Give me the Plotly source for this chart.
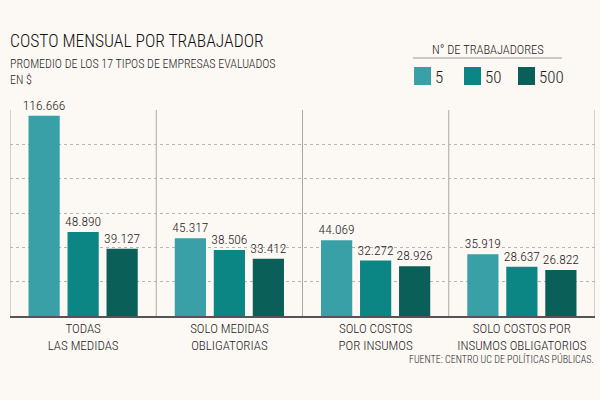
import plotly.graph_objects as go

categories = ["TODAS<br>LAS MEDIDAS", "SOLO MEDIDAS<br>OBLIGATORIAS",
              "SOLO COSTOS<br>POR INSUMOS", "SOLO COSTOS POR<br>INSUMOS OBLIGATORIOS"]
series_names = ["5", "50", "500"]
vals_5 = [116666, 45317, 44069, 35919]
vals_50 = [48890, 38506, 32272, 28637]
vals_500 = [39127, 33412, 28926, 26822]
colors = ["#38a0a6", "#0b8684", "#0a5f59"]

FONT = "Roboto Condensed, Liberation Sans Narrow, DejaVu Sans Condensed, sans-serif"
WT = 300
BG = "#fcf8f4"
TXT = "#1c1c1c"

W, H = 600, 400
L, R, T, B = 10, 5, 110, 84
PW, PH = W - L - R, H - T - B

def px(x):
    return (x - L) / PW

def py(y):
    return (H - B - y) / PH

def fnt(size, color=TXT):
    return dict(family=FONT, size=size, color=color, weight=WT)

fig = go.Figure()
for name, vals, col in zip(series_names, [vals_5, vals_50, vals_500], colors):
    fig.add_trace(go.Bar(
        x=categories, y=vals, name=name, marker=dict(color=col, line=dict(width=0)),
        texttemplate="%{y:,}", textposition="outside", cliponaxis=False,
        constraintext="none", textfont=fnt(13.5), showlegend=False,
    ))

shapes = []
for xv in [-0.5, 0.5, 1.5, 2.5, 3.5]:
    shapes.append(dict(type="line", xref="x", yref="paper", x0=xv, x1=xv, y0=0, y1=1,
                       line=dict(color="#a8a8a8", width=1), layer="below"))
# legend header underline
shapes.append(dict(type="line", xref="paper", yref="paper", x0=px(413), x1=px(562),
                   y0=py(58), y1=py(58), line=dict(color="#9a9a9a", width=1)))
annotations = []
leg_x = [414, 464, 518]
for lx, name, col in zip(leg_x, series_names, colors):
    shapes.append(dict(type="rect", xref="paper", yref="paper", x0=px(lx), x1=px(lx + 17),
                       y0=py(85), y1=py(67), fillcolor=col, line=dict(width=0)))
    annotations.append(dict(text=name, xref="paper", yref="paper", x=px(lx + 19), y=py(77),
                            xanchor="left", yanchor="middle", showarrow=False, font=fnt(17)))

annotations += [
    dict(text="COSTO MENSUAL POR TRABAJADOR", xref="paper", yref="paper", x=px(8), y=py(41),
         xanchor="left", yanchor="middle", showarrow=False, font=fnt(17.5, "#111111")),
    dict(text="PROMEDIO DE LOS 17 TIPOS DE EMPRESAS EVALUADOS", xref="paper", yref="paper",
         x=px(8), y=py(64), xanchor="left", yanchor="middle", showarrow=False, font=fnt(12)),
    dict(text="EN $", xref="paper", yref="paper", x=px(8), y=py(80), xanchor="left",
         yanchor="middle", showarrow=False, font=fnt(12)),
    dict(text="N° DE TRABAJADORES", xref="paper", yref="paper", x=px(488), y=py(50),
         xanchor="center", yanchor="middle", showarrow=False, font=fnt(12.5)),
    dict(text="FUENTE: CENTRO UC DE POLÍTICAS PÚBLICAS.", xref="paper", yref="paper",
         x=px(596), y=py(359), xanchor="right", yanchor="middle", showarrow=False,
         font=fnt(10)),
]

fig.update_layout(
    width=W, height=H, margin=dict(l=L, r=R, t=T, b=B),
    paper_bgcolor=BG, plot_bgcolor=BG, separators=",.",
    barmode="group", bargap=0.2, bargroupgap=0.2,
    shapes=shapes, annotations=annotations,
    xaxis=dict(showgrid=False, showline=True, linecolor="#555555", linewidth=1.5,
               ticks="", range=[-0.5, 3.5], tickfont=fnt(13)),
    yaxis=dict(range=[0, 120000], dtick=20000, showticklabels=False, showgrid=True,
               gridcolor="#b5b5b5", griddash="dot", gridwidth=1, zeroline=False,
               showline=False),
)

fig.write_html("out.html")
